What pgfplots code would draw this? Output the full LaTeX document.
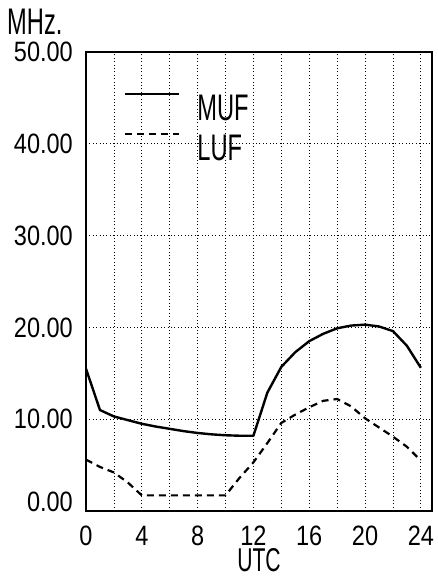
\documentclass[border=0pt]{standalone}
\usepackage{fontspec}
\setmainfont{Liberation Sans}
\newfontfamily\tickfont{Liberation Sans}[FakeStretch=0.84]
\newfontfamily\labfont{Liberation Sans}[FakeStretch=0.64]
\usepackage{pgfplots}
\pgfplotsset{compat=1.18}
\begin{document}
\begin{tikzpicture}
\begin{axis}[
  name=ax,
  scale only axis,
  width=346pt, height=459pt,
  xmin=0, xmax=24.8, ymin=0, ymax=50,
  axis line style={line width=1.8pt},
  xtick={0,4,...,24},
  minor xtick={2,6,...,22},
  ytick={0,10,...,50},
  yticklabels={\raisebox{18pt}{0.00},10.00,20.00,30.00,40.00,50.00},
  xticklabels={0,4,8,12,16,20,24},
  major tick length=0pt, minor tick length=0pt,
  grid=both,
  major grid style={black, line width=0.8pt, dash pattern=on 1pt off 2.4pt},
  minor grid style={black, line width=0.8pt, dash pattern=on 1pt off 2.4pt},
  ticklabel style={font=\fontsize{28}{30}\selectfont\tickfont},
  xticklabel style={anchor=base, inner sep=0pt, yshift=-34pt},
  yticklabel style={anchor=east, inner sep=0pt, xshift=-13pt},
  xlabel={UTC},
  xlabel style={at={(axis description cs:0.5,0)}, anchor=base, inner sep=0pt, yshift=-60pt, font=\fontsize{33}{35}\selectfont\labfont},
  legend style={draw=none, fill=none, inner sep=0pt, outer sep=0pt,
    at={(axis description cs:0.1098,0.9107)}, anchor=north west,
    row sep=12pt, font=\fontsize{37}{40}\selectfont\labfont,
    nodes={inner sep=0pt, text height=27pt, text depth=0pt},
    /tikz/every odd column/.append style={column sep=17pt}},
  legend image code/.code={\draw[#1] (0pt,13pt) -- (54pt,13pt);},
  legend cell align=left,
]
\addplot[black, line width=2.4pt, line join=round] coordinates {
(0,15.5) (1,11.0) (2,10.3) (3,9.9) (4,9.5) (5,9.2) (6,8.95) (7,8.7) (8,8.5)
(9,8.35) (10,8.25) (11,8.2) (12,8.2) (13,12.9) (14,15.7) (15,17.3) (16,18.5)
(17,19.3) (18,19.9) (19,20.2) (20,20.3) (21,20.1) (22,19.6) (23,18.0) (24,15.6)
};
\addlegendentry{MUF}
\addplot[black, line width=2.2pt, dash pattern=on 7pt off 5pt] coordinates {
(0,5.6) (1,4.8) (2,4.2) (3,3.1) (4,1.7) (5,1.7) (6,1.7) (7,1.7) (8,1.7)
(9,1.7) (10,1.7) (11,3.6) (12,5.3) (13,7.4) (14,9.6) (15,10.5) (16,11.3)
(17,12.0) (18,12.2) (19,11.4) (20,10.1) (21,9.1) (22,8.1) (23,7.0) (24,5.5)
};
\addlegendentry{LUF}
\end{axis}
\node[anchor=base west, inner sep=0pt, font=\fontsize{37}{40}\selectfont\labfont] at ([xshift=-79pt,yshift=17pt]ax.north west) {MHz.};
\pgfresetboundingbox
\path[use as bounding box] ([xshift=-86pt,yshift=-65pt]ax.south west) rectangle ([xshift=6pt,yshift=52pt]ax.north east);
\end{tikzpicture}
\end{document}
